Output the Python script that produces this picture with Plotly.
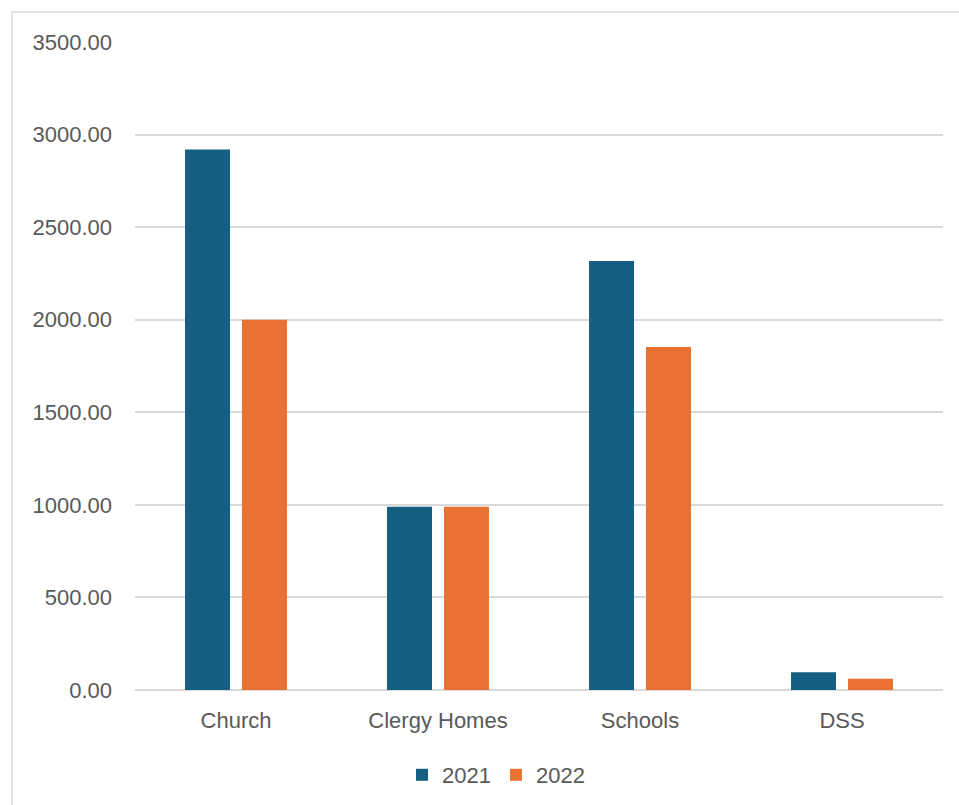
import plotly.graph_objects as go

# Categories and yearly values
categories = ["Church", "Clergy Homes", "Schools", "DSS"]
values_2021 = [2920, 990, 2317, 96]
values_2022 = [2000, 990, 1853, 61]
series_names = ["2021", "2022"]
tick_values = [0, 500, 1000, 1500, 2000, 2500, 3000, 3500]
tick_labels = [f"{v:.2f}" for v in tick_values]

COLOR_2021 = "#156082"
COLOR_2022 = "#E97132"
TEXT = "#595959"
GRID = "#D9D9D9"
FONT = "Liberation Sans, Arial, sans-serif"

W, H = 959, 805
ML, MR, MT, MB = 135, 16, 42, 115
PW, PH = W - ML - MR, H - MT - MB

fig = go.Figure()
fig.add_trace(go.Bar(x=categories, y=values_2021, name=series_names[0],
                     marker=dict(color=COLOR_2021, line=dict(width=0))))
fig.add_trace(go.Bar(x=categories, y=values_2022, name=series_names[1],
                     marker=dict(color=COLOR_2022, line=dict(width=0))))

# chart-area frame (light grey outline starting near the top-left corner)
def px_x(p):
    return (p - ML) / PW

def px_y(p):
    return (H - MB - p) / PH

fig.add_shape(type="rect", xref="paper", yref="paper",
              x0=px_x(12), x1=px_x(975), y0=px_y(12), y1=px_y(820),
              line=dict(color=GRID, width=1.5), fillcolor="rgba(0,0,0,0)",
              layer="below")

fig.update_layout(
    width=W, height=H,
    margin=dict(l=ML, r=MR, t=MT, b=MB, pad=0, autoexpand=False),
    paper_bgcolor="white", plot_bgcolor="white",
    barmode="group", bargap=0.436, bargroupgap=0.21,
    font=dict(family=FONT, color=TEXT, size=22),
    showlegend=True,
    legend=dict(orientation="h", x=px_x(496), xanchor="center", y=px_y(775), yanchor="middle",
                font=dict(size=22, color=TEXT), itemwidth=30,
                traceorder="normal"),
    xaxis=dict(showgrid=False, showline=False, ticks="", tickfont=dict(size=22, color=TEXT),
               ticklabelstandoff=15, automargin=False),
    yaxis=dict(range=[0, 3500], tickvals=tick_values, ticktext=tick_labels,
               showgrid=True, gridcolor=GRID, gridwidth=1.5,
               zeroline=True, zerolinecolor=GRID, zerolinewidth=1.5,
               showline=False, ticks="", ticklabelstandoff=22, automargin=False,
               tickfont=dict(size=22, color=TEXT)),
)

fig.write_html("out.html")
